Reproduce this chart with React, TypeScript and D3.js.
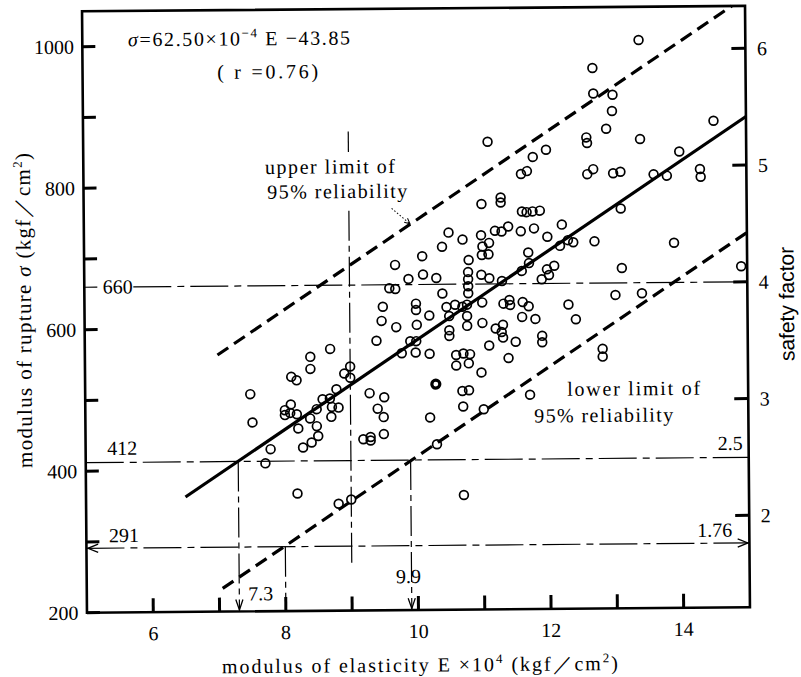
import React from 'react';
import * as d3 from 'd3';

// Axis extents and ticks
const E_DOMAIN: [number, number] = [5, 15];
const SIGMA_DOMAIN: [number, number] = [200, 1050];
const E_TICKS = [6, 7, 8, 9, 10, 11, 12, 13, 14];
const E_TICK_LABELS = [6, 8, 10, 12, 14];
const SIGMA_TICKS = [200, 300, 400, 500, 600, 700, 800, 900, 1000];
const SIGMA_TICK_LABELS = [200, 400, 600, 800, 1000];
const SAFETY_TICKS = [2, 3, 4, 5, 6];
const SAFETY_DIVISOR = 165; // kgf/cm² per unit of safety factor (660 / 4)

// Regression σ = 62.50×10⁻⁴ E − 43.85 (E in 10⁴ kgf/cm²)
const REG_SLOPE = 62.5;
const REG_INTERCEPT = -43.85;
const REG_SPAN: [number, number] = [6.5, 15];

// 95% reliability limits (end points, E and σ)
const upperLimit: [number, number][] = [[7.0, 562.7], [14.8, 1050]];
const lowerLimit: [number, number][] = [[7.05, 232.8], [15.0, 729.6]];

// Design levels read on the σ axis and the matching safety factors
const strengthLevels = [660, 412, 291];
const safetyLabels = ['4', '2.5', '1.76'];
const modulusMarks = [7.3, 8, 9.9];
const meanModulus = 9.0;

// Test specimens: [E (×10⁴ kgf/cm²), σ (kgf/cm²)]
const specimens: [number, number][] = [
  [13.39, 1003], [12.69, 964], [12.70, 928], [12.99, 926], [12.98, 903], [12.89, 878],
  [13.40, 863], [14.51, 888], [12.59, 866], [12.60, 858], [11.10, 861], [11.98, 849],
  [11.78, 839], [11.69, 819], [11.60, 815], [12.69, 821], [12.60, 814], [12.99, 815],
  [13.10, 817], [13.60, 813], [13.80, 811], [13.99, 845], [14.30, 820], [14.31, 809],
  [11.00, 773], [11.29, 782], [11.29, 775], [11.61, 762], [11.68, 761], [11.77, 762],
  [11.88, 763], [13.10, 765], [10.71, 723], [10.99, 729], [11.20, 735], [11.30, 734],
  [11.40, 741], [11.59, 734], [11.79, 738], [12.21, 743], [11.99, 726], [12.30, 721],
  [12.38, 718], [12.70, 719], [13.90, 716], [12.18, 713], [11.11, 718], [11.01, 713],
  [11.00, 701], [11.10, 702], [11.70, 704], [11.71, 689], [10.80, 694], [11.60, 678],
  [11.98, 680], [12.01, 672], [12.09, 685], [11.90, 666], [11.30, 664], [10.79, 677],
  [10.79, 667], [10.79, 657], [10.79, 647], [10.99, 673], [11.11, 668], [14.91, 682],
  [13.11, 681], [13.01, 643], [13.41, 645], [12.30, 630], [12.41, 609], [11.00, 634],
  [10.77, 631], [10.77, 615], [10.77, 601], [11.32, 632], [11.41, 637], [11.42, 630],
  [11.61, 634], [11.70, 628], [11.60, 613], [11.80, 610], [11.00, 605], [11.20, 597],
  [11.31, 602], [11.29, 592], [11.31, 584], [11.50, 578], [11.90, 586], [11.90, 577],
  [11.10, 573], [12.81, 567], [12.81, 556], [10.50, 733], [10.40, 713], [10.10, 700],
  [9.69, 688], [10.11, 674], [10.31, 669], [9.89, 668], [9.60, 655], [9.69, 654],
  [10.40, 647], [9.50, 629], [10.00, 633], [10.00, 624], [10.20, 616], [10.46, 628],
  [10.59, 631], [10.70, 628], [9.48, 609], [9.70, 600], [10.01, 603], [10.50, 615],
  [10.50, 595], [10.50, 587], [9.40, 581], [9.91, 580], [10.00, 580], [8.70, 570],
  [8.40, 559], [8.40, 542], [9.78, 563], [9.99, 564], [10.20, 562], [10.60, 560],
  [10.71, 562], [10.81, 561], [10.60, 545], [10.79, 548], [9.00, 545], [8.91, 535],
  [9.00, 529], [8.11, 531], [8.19, 526], [7.49, 507], [8.79, 513], [9.29, 507],
  [9.51, 501], [10.69, 509], [10.79, 510], [8.58, 499], [8.69, 500], [8.10, 492],
  [8.01, 484], [8.09, 480], [8.19, 478], [8.01, 477], [8.49, 485], [8.72, 488],
  [8.82, 487], [8.71, 474], [9.41, 485], [9.50, 473], [10.70, 487], [10.20, 472],
  [7.52, 467], [8.39, 472], [8.21, 458], [8.49, 461], [8.51, 447], [8.41, 438],
  [8.28, 431], [9.19, 442], [9.30, 445], [9.30, 440], [9.50, 449], [7.79, 429],
  [7.71, 409], [10.30, 434], [8.19, 366], [10.70, 362], [8.81, 351], [9.00, 357],
  [11.39, 555], [10.98, 535], [11.71, 503], [11.01, 483],
];
const boldSpecimens: [number, number][] = [[10.29, 519]];

const W = 801;
const H = 677;
const SERIF = '"Liberation Serif", "DejaVu Serif", serif';
const SANS = '"Liberation Sans", Arial, sans-serif';
const INK = '#000';

function arrowPath(tx: number, ty: number, angle: number, len = 10, spread = 0.4) {
  const back = angle + Math.PI;
  const p1 = [tx + len * Math.cos(back - spread), ty + len * Math.sin(back - spread)];
  const p2 = [tx + len * Math.cos(back + spread), ty + len * Math.sin(back + spread)];
  return `M${p1[0]},${p1[1]}L${tx},${ty}L${p2[0]},${p2[1]}`;
}

export default function App() {
  const x = d3.scaleLinear().domain(E_DOMAIN).range([84.5, 747.5]);
  const y = d3.scaleLinear().domain(SIGMA_DOMAIN).range([610, 8.6]);
  const ySafety = (s: number) => y(s * SAFETY_DIVISOR);
  const line = d3.line<[number, number]>().x((d) => x(d[0])).y((d) => y(d[1]));
  const reg = (e: number) => REG_SLOPE * e + REG_INTERCEPT;
  const regLine: [number, number][] = REG_SPAN.map((e) => [e, reg(e)] as [number, number]);

  const left = x(E_DOMAIN[0]);
  const right = x(E_DOMAIN[1]);
  const bottom = y(SIGMA_DOMAIN[0]);
  const top = y(SIGMA_DOMAIN[1]);

  const thin = { stroke: INK, strokeWidth: 1.2, fill: 'none', strokeDasharray: '38 6 7 6' };
  const [s660, s412, s291] = strengthLevels;
  const [e73, e8, e99] = modulusMarks;

  return (
    <svg
      width={W}
      height={H}
      viewBox={`0 0 ${W} ${H}`}
      style={{ position: 'absolute', left: 0, top: 0, background: '#fff' }}
    >
      <rect x={0} y={0} width={W} height={H} fill="#fff" />
      <g transform="rotate(-0.47 416 310)">
        {/* frame */}
        <rect x={left} y={top} width={right - left} height={bottom - top} fill="none" stroke={INK} strokeWidth={2.6} />

        {/* σ axis ticks and labels */}
        {SIGMA_TICKS.map((v) => (
          <line key={`yt${v}`} x1={left} x2={left + 13} y1={y(v)} y2={y(v)} stroke={INK} strokeWidth={3} />
        ))}
        {SIGMA_TICK_LABELS.map((v) => (
          <text key={`yl${v}`} x={left - 8.5} y={y(v) + 7} textAnchor="end" fontFamily={SERIF} fontSize={20} fill={INK}>
            {v}
          </text>
        ))}

        {/* E axis ticks and labels */}
        {E_TICKS.map((v) => (
          <line key={`xt${v}`} x1={x(v)} x2={x(v)} y1={bottom} y2={bottom - 14} stroke={INK} strokeWidth={3} />
        ))}
        {E_TICK_LABELS.map((v) => (
          <text key={`xl${v}`} x={x(v)} y={bottom + 28} textAnchor="middle" fontFamily={SERIF} fontSize={20} fill={INK}>
            {v}
          </text>
        ))}

        {/* safety factor axis */}
        {SAFETY_TICKS.map((s) => (
          <line key={`st${s}`} x1={right} x2={right - 14} y1={ySafety(s)} y2={ySafety(s)} stroke={INK} strokeWidth={3} />
        ))}
        {SAFETY_TICKS.map((s) => (
          <text key={`sl${s}`} x={right + 11.5} y={ySafety(s) + 7} fontFamily={SERIF} fontSize={20} fill={INK}>
            {s}
          </text>
        ))}

        {/* σ = 660 level */}
        <line x1={left} x2={left + 13} y1={y(s660)} y2={y(s660)} {...thin} strokeDasharray="none" />
        <line x1={left + 49} x2={right} y1={y(s660)} y2={y(s660)} {...thin} />
        <text x={left + 18.5} y={y(s660) + 6.5} fontFamily={SERIF} fontSize={20} fill={INK}>{s660}</text>

        {/* σ = 412 level */}
        <line x1={left} x2={right} y1={y(s412)} y2={y(s412)} {...thin} />
        <text x={left + 21.5} y={y(s412) - 7.5} fontFamily={SERIF} fontSize={20} fill={INK}>{s412}</text>
        <text x={right - 6} y={y(s412) - 7.4} textAnchor="end" fontFamily={SERIF} fontSize={20} fill={INK}>{safetyLabels[1]}</text>

        {/* σ = 291 level with arrows to both axes */}
        <line x1={left} x2={right} y1={y(s291)} y2={y(s291)} {...thin} />
        <path d={arrowPath(left + 1.5, y(s291), Math.PI, 11, 0.38)} stroke={INK} strokeWidth={1.3} fill="none" />
        <path d={arrowPath(right - 1.5, y(s291), 0, 11, 0.38)} stroke={INK} strokeWidth={1.3} fill="none" />
        <text x={left + 22.5} y={y(s291) - 6} fontFamily={SERIF} fontSize={20} fill={INK}>{s291}</text>
        <text x={right - 17} y={y(s291) - 6.4} textAnchor="end" fontFamily={SERIF} fontSize={20} fill={INK}>{safetyLabels[2]}</text>

        {/* modulus marks down to the E axis */}
        <line x1={x(e73)} x2={x(e73)} y1={y(s412)} y2={bottom - 1} {...thin} strokeDasharray="30 5 6 5" />
        <path d={arrowPath(x(e73), bottom - 1.5, Math.PI / 2, 11, 0.33)} stroke={INK} strokeWidth={1.3} fill="none" />
        <text x={x(e73) + 9} y={bottom - 11} fontFamily={SERIF} fontSize={20} fill={INK}>{e73}</text>

        <line x1={x(e8)} x2={x(e8)} y1={y(s291)} y2={bottom - 1} {...thin} strokeDasharray="30 5 6 5" />

        <line x1={x(e99)} x2={x(e99)} y1={y(s412)} y2={bottom - 1} {...thin} strokeDasharray="30 5 6 5" />
        <path d={arrowPath(x(e99), bottom - 1.5, Math.PI / 2, 11, 0.33)} stroke={INK} strokeWidth={1.3} fill="none" />
        <text x={x(e99) - 3} y={bottom - 27} textAnchor="middle" fontFamily={SERIF} fontSize={20} fill={INK}>{e99}</text>

        {/* mean modulus line, interrupted by the annotation */}
        <line x1={x(meanModulus)} x2={x(meanModulus)} y1={y(877)} y2={y(848)} {...thin} strokeDasharray="none" />
        <line x1={x(meanModulus)} x2={x(meanModulus)} y1={y(765)} y2={y(267)} {...thin} strokeDasharray="30 5 6 5" />

        {/* regression and reliability limits */}
        <path d={line(regLine) ?? ''} stroke={INK} strokeWidth={3.2} fill="none" />
        <path d={line(upperLimit) ?? ''} stroke={INK} strokeWidth={3.2} fill="none" strokeDasharray="13 7" />
        <path d={line(lowerLimit) ?? ''} stroke={INK} strokeWidth={3.2} fill="none" strokeDasharray="13 7" />

        {/* specimens */}
        {specimens.map(([e, s], i) => (
          <circle key={`p${i}`} cx={x(e)} cy={y(s)} r={4.4} fill="none" stroke={INK} strokeWidth={1.7} />
        ))}
        {boldSpecimens.map(([e, s], i) => (
          <circle key={`b${i}`} cx={x(e)} cy={y(s)} r={4} fill="none" stroke={INK} strokeWidth={3.2} />
        ))}

        {/* regression equation */}
        <text x={x(5.69)} y={y(1000)} fontFamily={SERIF} fontSize={20} fill={INK} textLength={222} lengthAdjust="spacing">
          <tspan fontStyle="italic">σ</tspan>=62.50×10
          <tspan fontSize={13} dy={-8}>−4</tspan>
          <tspan dy={8}> E −43.85</tspan>
        </text>
        <text x={x(7.03)} y={y(953)} fontFamily={SERIF} fontSize={20} fill={INK} textLength={101} lengthAdjust="spacing">
          ( r =0.76)
        </text>

        {/* limit annotations */}
        <text x={x(7.74)} y={y(818)} fontFamily={SERIF} fontSize={20} fill={INK} textLength={130} lengthAdjust="spacing">
          upper limit of
        </text>
        <text x={x(7.77)} y={y(783)} fontFamily={SERIF} fontSize={20} fill={INK} textLength={140} lengthAdjust="spacing">
          95% reliability
        </text>
        <line x1={x(9.645)} y1={y(768)} x2={x(9.92)} y2={y(746)} stroke={INK} strokeWidth={1} strokeDasharray="1.5 2" />
        <path
          d={arrowPath(x(9.92), y(746), Math.atan2(y(746) - y(768), x(9.92) - x(9.645)), 6, 0.45)}
          stroke={INK}
          strokeWidth={1}
          fill="none"
        />
        <text x={x(12.27)} y={y(501)} fontFamily={SERIF} fontSize={20} fill={INK} textLength={133} lengthAdjust="spacing">
          lower limit of
        </text>
        <text x={x(11.77)} y={y(463.6)} fontFamily={SERIF} fontSize={20} fill={INK} textLength={139} lengthAdjust="spacing">
          95% reliability
        </text>

        {/* axis titles */}
        <text x={219} y={671.7} fontFamily={SERIF} fontSize={20} fill={INK} textLength={396} lengthAdjust="spacing">
          modulus of elasticity E  ×10
          <tspan fontSize={13} dy={-8}>4</tspan>
          <tspan dy={8}> (kgf／cm</tspan>
          <tspan fontSize={13} dy={-8}>2</tspan>
          <tspan dy={8}>)</tspan>
        </text>
        <text
          transform="translate(31 307.3) rotate(-90)"
          textAnchor="middle"
          fontFamily={SERIF}
          fontSize={21}
          fill={INK}
          textLength={315}
          lengthAdjust="spacing"
        >
          modulus of rupture <tspan fontStyle="italic">σ</tspan> (kgf／cm
          <tspan fontSize={13} dy={-8}>2</tspan>
          <tspan dy={8}>)</tspan>
        </text>
        <text
          transform="translate(794 307) rotate(-90)"
          textAnchor="middle"
          fontFamily={SANS}
          fontSize={21}
          fill={INK}
        >
          safety factor
        </text>
      </g>
    </svg>
  );
}
